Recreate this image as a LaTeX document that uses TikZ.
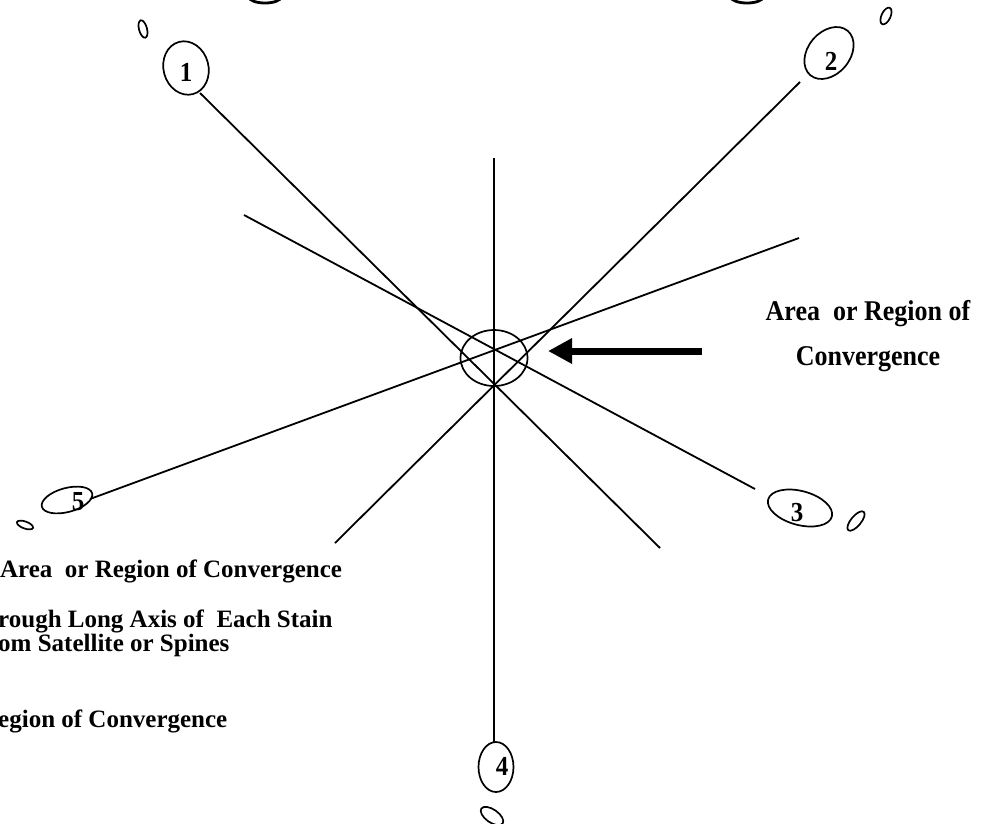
\documentclass[tikz,border=0pt]{standalone}
\usepackage{fontspec}
\setmainfont{Liberation Serif}
\usetikzlibrary{shapes.geometric,arrows.meta}
\tikzset{
  ray/.style={line width=1.8pt},
  stain/.style={draw, ellipse, line width=1.7pt, inner sep=0pt},
  lab/.style={font=\fontsize{25}{28}\selectfont\bfseries, inner sep=0pt, yscale=1.1},
  bigtext/.style={font=\fontsize{26}{41}\selectfont\bfseries, align=center, inner sep=0pt, yscale=1.1},
  legend/.style={font=\fontsize{25}{28}\selectfont\bfseries, anchor=base west, inner sep=0pt},
  bigarrow/.style={line width=7pt, -{Triangle[length=24pt,width=24pt]}}
}
\begin{document}
\begin{tikzpicture}[x=1pt,y=-1pt]
\useasboundingbox (0,0) rectangle (996,823);
% clipped title descenders
\draw[line width=2.8pt] (249,-3) arc[start angle=180,end angle=360,x radius=16pt,y radius=6pt];
\draw[line width=2.8pt] (731,-3) arc[start angle=180,end angle=360,x radius=16pt,y radius=6pt];
% stains
\node[stain, minimum width=45pt, minimum height=54pt, rotate=15] (s1) at (186,68) {};
\node[stain, minimum width=8pt, minimum height=18pt, rotate=15] (t1) at (143,29) {};
\node[stain, minimum width=42pt, minimum height=58pt, rotate=-40] (s2) at (829,53) {};
\node[stain, minimum width=9pt, minimum height=18pt, rotate=-25] (t2) at (886,16) {};
\node[stain, minimum width=66pt, minimum height=34pt, rotate=-15] (s3) at (800,508) {};
\node[stain, minimum width=10pt, minimum height=24pt, rotate=-40] (t3) at (856,521) {};
\node[stain, minimum width=35pt, minimum height=50pt] (s4) at (496,767) {};
\node[stain, minimum width=26pt, minimum height=13pt, rotate=-35] (t4) at (492,816) {};
\node[stain, minimum width=52pt, minimum height=24pt, rotate=15] (s5) at (67,500) {};
\node[stain, minimum width=17pt, minimum height=7pt, rotate=-20] (t5) at (25,525) {};
\node[stain, minimum width=67pt, minimum height=56pt] (conv) at (494,358) {};
% labels
\node[lab] (l1) at (186,72) {1};
\node[lab] (l2) at (831,61) {2};
\node[lab] (l3) at (797,513) {3};
\node[lab] (l4) at (502,766) {4};
\node[lab] (l5) at (78,502) {5};
% ray end points
\coordinate (a1) at (200,93);
\coordinate (b1) at (660,548);
\coordinate (a2) at (800,82);
\coordinate (b2) at (335,543);
\coordinate (a3) at (244,215);
\coordinate (b3) at (755,489);
\coordinate (a5) at (90,499);
\coordinate (b5) at (799,238);
\coordinate (av) at (494,158);
\coordinate (bv) at (494,742);
\draw[ray] (a1) -- (b1);
\draw[ray] (a2) -- (b2);
\draw[ray] (a3) -- (b3);
\draw[ray] (a5) -- (b5);
\draw[ray] (av) -- (bv);
% arrow and caption
\coordinate (arrs) at (702,351);
\coordinate (arre) at (548,351);
\draw[bigarrow] (arrs) -- (arre);
\node[bigtext] (cap) at (868,336) {Area\ \ or Region of\\Convergence};
% legend (clipped at left edge)
\node[legend] (g1) at (0,577) {Area\ \ or Region of Convergence};
\node[legend] (g2) at (-2,627) {rough Long Axis of\ \ Each Stain};
\node[legend] (g3) at (-2,651) {om Satellite or Spines};
\node[legend] (g4) at (-2,727) {egion of Convergence};
\end{tikzpicture}
\end{document}
